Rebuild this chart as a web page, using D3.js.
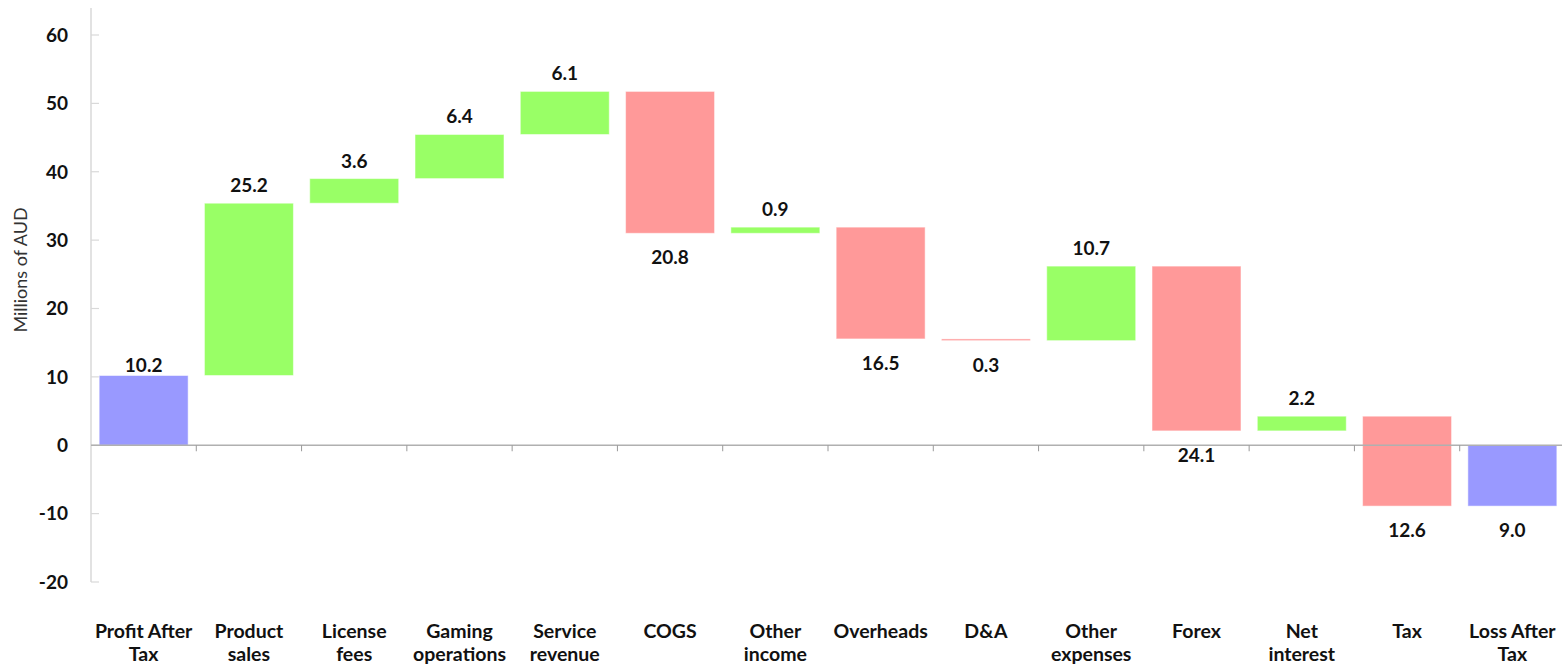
<!DOCTYPE html>
<html>
<head>
<meta charset="utf-8">
<script src="https://cdn.jsdelivr.net/npm/d3@7"></script>
<style>
  body { margin: 0; background: #fff; }
  text { font-family: Lato, "Open Sans", sans-serif; }
</style>
</head>
<body>
<div id="chart"></div>
<script>
// categories (two-line labels)
const categories = [
  ["Profit After", "Tax"],
  ["Product", "sales"],
  ["License", "fees"],
  ["Gaming", "operations"],
  ["Service", "revenue"],
  ["COGS"],
  ["Other", "income"],
  ["Overheads"],
  ["D&A"],
  ["Other", "expenses"],
  ["Forex"],
  ["Net", "interest"],
  ["Tax"],
  ["Loss After", "Tax"]
]
// printed value of each bar
const labels = [10.2, 25.2, 3.6, 6.4, 6.1, 20.8, 0.9, 16.5, 0.3, 10.7, 24.1, 2.2, 12.6, 9.0]
// running level reached after each bar, as drawn
const levels = [10.2, 35.4, 39.0, 45.45, 51.75, 31.0, 31.9, 15.55, 15.3, 26.2, 2.1, 4.25, -8.9, -8.9]
const yTicks = [-20, -10, 0, 10, 20, 30, 40, 50, 60]

const colors = { total: "#9999ff", up: "#99ff66", down: "#ff9999" }

const last = categories.length - 1
const steps = levels.map((lv, i) => {
  if (i === 0 || i === last) {
    return { i, start: 0, end: lv, kind: "total", label: labels[i] }
  }
  const prev = levels[i - 1]
  return { i, start: prev, end: lv, kind: lv >= prev ? "up" : "down", label: labels[i] }
})

const W = 1562, H = 667
const svg = d3.select("#chart").append("svg")
  .attr("width", W).attr("height", H)

const x = d3.scaleBand()
  .domain(d3.range(categories.length))
  .range([91, 1565])
  .paddingInner(0.155)
  .paddingOuter(0.0775)

const y = d3.scaleLinear()
  .domain([-20, 60])
  .range([582, 35])

// y axis line + ticks
svg.append("line")
  .attr("x1", 91).attr("x2", 91)
  .attr("y1", 8).attr("y2", y(-20))
  .attr("stroke", "#d9d9d9").attr("stroke-width", 1.5)

svg.selectAll(".ytick")
  .data(yTicks)
  .enter()
  .append("line")
  .attr("x1", 91).attr("x2", 99)
  .attr("y1", d => y(d)).attr("y2", d => y(d))
  .attr("stroke", "#d9d9d9").attr("stroke-width", 1.2)

svg.selectAll(".ylabel")
  .data(yTicks)
  .enter()
  .append("text")
  .attr("x", 68)
  .attr("y", d => y(d))
  .attr("dy", "0.36em")
  .attr("text-anchor", "end")
  .style("font-size", "19px")
  .style("font-weight", "bold")
  .style("fill", "#111")
  .text(d => d)

// axis title
svg.append("text")
  .attr("transform", "translate(27,270) rotate(-90)")
  .attr("text-anchor", "middle")
  .style("font-size", "18px")
  .style("fill", "#333")
  .text("Millions of AUD")

// bars
svg.selectAll(".bar")
  .data(steps)
  .enter()
  .append("rect")
  .attr("class", "bar")
  .attr("x", d => x(d.i))
  .attr("width", x.bandwidth())
  .attr("y", d => y(Math.max(d.start, d.end)))
  .attr("height", d => Math.max(1.5, Math.abs(y(d.start) - y(d.end))))
  .attr("fill", d => colors[d.kind])
  .attr("stroke", "rgba(255,255,255,0.5)")
  .attr("stroke-width", 1)

// zero line with category ticks
svg.append("line")
  .attr("x1", 91).attr("x2", W)
  .attr("y1", y(0)).attr("y2", y(0))
  .attr("stroke", "#b0b0b0").attr("stroke-width", 1.5)

svg.selectAll(".xtick")
  .data(d3.range(1, categories.length))
  .enter()
  .append("line")
  .attr("x1", d => x(d) - x.step() * 0.0775)
  .attr("x2", d => x(d) - x.step() * 0.0775)
  .attr("y1", y(0)).attr("y2", y(0) + 6)
  .attr("stroke", "#999").attr("stroke-width", 1)

// value labels: rises above the bar, falls below it
svg.selectAll(".val")
  .data(steps)
  .enter()
  .append("text")
  .attr("x", d => x(d.i) + x.bandwidth() / 2)
  .attr("y", d => {
    const top = y(Math.max(d.start, d.end)), bottom = y(Math.min(d.start, d.end))
    if (d.end >= d.start) return d.kind === "total" ? top - 4 : top - 11
    return bottom + 31
  })
  .attr("text-anchor", "middle")
  .style("font-size", "19px")
  .style("font-weight", "bold")
  .style("fill", "#111")
  .text(d => d.label.toFixed(1))

// category labels
const cat = svg.selectAll(".cat")
  .data(categories)
  .enter()
  .append("text")
  .attr("text-anchor", "middle")
  .style("font-size", "19.5px")
  .style("font-weight", "bold")
  .style("fill", "#111")

cat.selectAll("tspan")
  .data((d, i) => d.map(t => ({ t, i })))
  .enter()
  .append("tspan")
  .attr("x", d => x(d.i) + x.bandwidth() / 2)
  .attr("y", (d, j) => 638 + j * 23)
  .text(d => d.t)
</script>
</body>
</html>
